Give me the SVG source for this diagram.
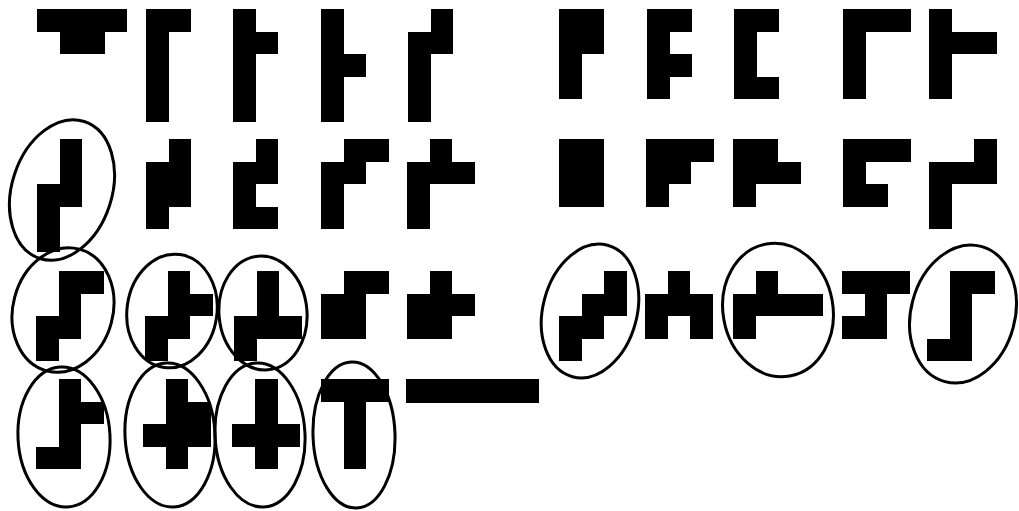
<svg xmlns="http://www.w3.org/2000/svg" width="1019" height="511" viewBox="0 0 1019 511">
<style>
.s rect{fill:#000;shape-rendering:crispEdges}
.c{fill:none;stroke:#000;stroke-width:3}
</style>
<rect width="1019" height="511" fill="#fff"/>
<g id="row1">
<g id="s1" class="s" transform="translate(37,9) scale(22.5)"><rect x="0" y="0" width="4" height="1"/><rect x="1" y="1" width="2" height="1"/></g>
<g id="s2" class="s" transform="translate(146,9) scale(22.5)"><rect x="0" y="0" width="2" height="1"/><rect x="0" y="1" width="1" height="4"/></g>
<g id="s3" class="s" transform="translate(233,9) scale(22.5)"><rect x="0" y="0" width="1" height="5"/><rect x="1" y="1" width="1" height="1"/></g>
<g id="s4" class="s" transform="translate(321,9) scale(22.5)"><rect x="0" y="0" width="1" height="5"/><rect x="1" y="2" width="1" height="1"/></g>
<g id="s5" class="s" transform="translate(408,9) scale(22.5)"><rect x="1" y="0" width="1" height="2"/><rect x="0" y="1" width="1" height="4"/></g>
<g id="s6" class="s" transform="translate(559,9) scale(22.5)"><rect x="0" y="0" width="2" height="2"/><rect x="0" y="2" width="1" height="2"/></g>
<g id="s7" class="s" transform="translate(647,9) scale(22.5)"><rect x="0" y="0" width="1" height="4"/><rect x="1" y="0" width="1" height="1"/><rect x="1" y="2" width="1" height="1"/></g>
<g id="s8" class="s" transform="translate(734,9) scale(22.5)"><rect x="0" y="0" width="1" height="4"/><rect x="1" y="0" width="1" height="1"/><rect x="1" y="3" width="1" height="1"/></g>
<g id="s9" class="s" transform="translate(843,9) scale(22.5)"><rect x="0" y="0" width="3" height="1"/><rect x="0" y="1" width="1" height="3"/></g>
<g id="s10" class="s" transform="translate(929,9) scale(22.5)"><rect x="0" y="0" width="1" height="4"/><rect x="1" y="1" width="2" height="1"/></g>
</g>
<g id="row2">
<g id="s11" class="s" transform="translate(37,139) scale(22.5)"><rect x="1" y="0" width="1" height="3"/><rect x="0" y="2" width="1" height="3"/></g>
<g id="s12" class="s" transform="translate(146,139) scale(22.5)"><rect x="1" y="0" width="1" height="3"/><rect x="0" y="1" width="1" height="3"/></g>
<g id="s13" class="s" transform="translate(233,139) scale(22.5)"><rect x="0" y="1" width="1" height="3"/><rect x="1" y="0" width="1" height="2"/><rect x="1" y="3" width="1" height="1"/></g>
<g id="s14" class="s" transform="translate(321,139) scale(22.5)"><rect x="0" y="1" width="1" height="3"/><rect x="1" y="0" width="2" height="1"/><rect x="1" y="1" width="1" height="1"/></g>
<g id="s15" class="s" transform="translate(407,139) scale(22.5)"><rect x="1" y="0" width="1" height="1"/><rect x="0" y="1" width="3" height="1"/><rect x="0" y="2" width="1" height="2"/></g>
<g id="s16" class="s" transform="translate(559,139) scale(22.5)"><rect x="0" y="0" width="2" height="3"/></g>
<g id="s17" class="s" transform="translate(646,139) scale(22.5)"><rect x="0" y="0" width="3" height="1"/><rect x="0" y="1" width="2" height="1"/><rect x="0" y="2" width="1" height="1"/></g>
<g id="s18" class="s" transform="translate(733,139) scale(22.5)"><rect x="0" y="0" width="2" height="1"/><rect x="0" y="1" width="3" height="1"/><rect x="0" y="2" width="1" height="1"/></g>
<g id="s19" class="s" transform="translate(843,139) scale(22.5)"><rect x="0" y="0" width="3" height="1"/><rect x="0" y="1" width="1" height="2"/><rect x="1" y="2" width="1" height="1"/></g>
<g id="s20" class="s" transform="translate(929,139) scale(22.5)"><rect x="2" y="0" width="1" height="1"/><rect x="0" y="1" width="3" height="1"/><rect x="0" y="2" width="1" height="2"/></g>
</g>
<g id="row3">
<g id="s21" class="s" transform="translate(36,271) scale(22.5)"><rect x="1" y="0" width="2" height="1"/><rect x="1" y="1" width="1" height="1"/><rect x="0" y="2" width="2" height="1"/><rect x="0" y="3" width="1" height="1"/></g>
<g id="s22" class="s" transform="translate(145,271) scale(22.5)"><rect x="1" y="0" width="1" height="3"/><rect x="2" y="1" width="1" height="1"/><rect x="0" y="2" width="1" height="2"/></g>
<g id="s23" class="s" transform="translate(234,271) scale(22.5)"><rect x="1" y="0" width="1" height="3"/><rect x="0" y="2" width="3" height="1"/><rect x="0" y="3" width="1" height="1"/></g>
<g id="s24" class="s" transform="translate(321,271) scale(22.5)"><rect x="1" y="0" width="2" height="1"/><rect x="0" y="1" width="2" height="2"/></g>
<g id="s25" class="s" transform="translate(407,271) scale(22.5)"><rect x="1" y="0" width="1" height="1"/><rect x="0" y="1" width="3" height="1"/><rect x="0" y="2" width="2" height="1"/></g>
<g id="s26" class="s" transform="translate(559,271) scale(22.5)"><rect x="2" y="0" width="1" height="2"/><rect x="1" y="1" width="1" height="2"/><rect x="0" y="2" width="1" height="2"/></g>
<g id="s27" class="s" transform="translate(645,271) scale(22.5)"><rect x="1" y="0" width="1" height="1"/><rect x="0" y="1" width="3" height="1"/><rect x="0" y="2" width="1" height="1"/><rect x="2" y="2" width="1" height="1"/></g>
<g id="s28" class="s" transform="translate(733,271) scale(22.5)"><rect x="1" y="0" width="1" height="1"/><rect x="0" y="1" width="4" height="1"/><rect x="0" y="2" width="1" height="1"/></g>
<g id="s29" class="s" transform="translate(842,271) scale(22.5)"><rect x="0" y="0" width="3" height="1"/><rect x="1" y="1" width="1" height="2"/><rect x="0" y="2" width="1" height="1"/></g>
<g id="s30" class="s" transform="translate(927,271) scale(22.5)"><rect x="1" y="0" width="2" height="1"/><rect x="1" y="1" width="1" height="3"/><rect x="0" y="3" width="1" height="1"/></g>
</g>
<g id="row4">
<g id="s31" class="s" transform="translate(36,379) scale(22.5)"><rect x="1" y="0" width="1" height="4"/><rect x="2" y="1" width="1" height="1"/><rect x="0" y="3" width="1" height="1"/></g>
<g id="s32" class="s" transform="translate(143,379) scale(22.5)"><rect x="1" y="0" width="1" height="4"/><rect x="2" y="1" width="1" height="2"/><rect x="0" y="2" width="1" height="1"/></g>
<g id="s33" class="s" transform="translate(232,379) scale(22.8,22.5)"><rect x="1" y="0" width="1" height="4"/><rect x="0" y="2" width="3" height="1"/></g>
<g id="s34" class="s" transform="translate(321,379) scale(22.5)"><rect x="0" y="0" width="3" height="1"/><rect x="1" y="1" width="1" height="3"/></g>
<g id="s35" class="s" transform="translate(406,379) scale(22.1,24)"><rect x="0" y="0" width="6" height="1"/></g>
</g>
<g id="circles">
<ellipse class="c" cx="62" cy="190" rx="50" ry="72" transform="rotate(18 62 190)"/>
<ellipse class="c" cx="63" cy="310" rx="50" ry="63" transform="rotate(15 63 310)"/>
<ellipse class="c" cx="172" cy="311" rx="45" ry="57" transform="rotate(8 172 311)"/>
<ellipse class="c" cx="263" cy="313" rx="44" ry="57" transform="rotate(-5 263 313)"/>
<ellipse class="c" cx="590" cy="311" rx="47" ry="68" transform="rotate(15 590 311)"/>
<ellipse class="c" cx="778" cy="310" rx="55" ry="67" transform="rotate(-10 778 310)"/>
<ellipse class="c" cx="963" cy="314" rx="52" ry="70" transform="rotate(15 963 314)"/>
<ellipse class="c" cx="64" cy="437" rx="46" ry="70" transform="rotate(-3 64 437)"/>
<ellipse class="c" cx="170" cy="435" rx="45" ry="72" transform="rotate(-3 170 435)"/>
<ellipse class="c" cx="260" cy="435" rx="45" ry="72" transform="rotate(-3 260 435)"/>
<ellipse class="c" cx="354" cy="435" rx="41" ry="73" transform="rotate(-2 354 435)"/>
</g>
</svg>
